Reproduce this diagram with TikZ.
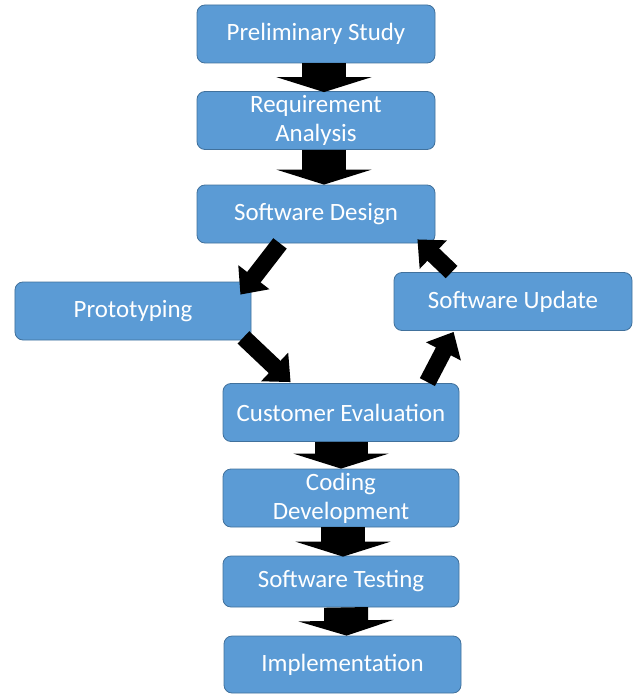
\documentclass[tikz,border=0pt]{standalone}
\usepackage{fontspec}
\setmainfont{Carlito}
\usepackage{xcolor}
\usetikzlibrary{arrows.meta,calc}
\definecolor{boxblue}{HTML}{5B9BD5}
\definecolor{boxline}{HTML}{41719C}

\begin{document}
\begin{tikzpicture}[x=1bp,y=-1bp]
		\tikzstyle{stage}=[draw=boxline,line width=0.8bp,fill=boxblue,rounded corners=8bp, minimum width=238bp, minimum height=58bp, inner sep=0pt, align=center, text=white, font=\fontsize{25}{29}\selectfont]
		\tikzstyle{down_arrow}=[line width=44bp, -{Triangle[length=15bp,width=95bp]}]
		\tikzstyle{side_arrow}=[line width=17bp, -{Triangle[length=22bp,width=38bp]}]

		\useasboundingbox (0,0) rectangle (634,694);

		\node [stage] (PS) at (316,34) {Preliminary Study};
		\node [stage] (RA) at (316,120.5) {Requirement\\Analysis};
		\node [stage] (SD) at (316,214) {Software Design};
		\node [stage, minimum width=236bp] (PT) at (133,311) {Prototyping};
		\node [stage] (SU) at (513,301.5) {Software Update};
		\node [stage, minimum width=236bp] (CE) at (341,412.5) {Customer Evaluation};
		\node [stage, minimum width=236bp] (CD) at (341,498) {Coding\\Development};
		\node [stage, minimum width=236bp, minimum height=51bp] (ST) at (341,581.5) {Software Testing};
		\node [stage, minimum width=237bp, minimum height=57bp] (IM) at (342.5,664.5) {Implementation};

		\draw [down_arrow] ($(PS.south)+(8,0)$) -- ($(RA.north)+(8,1)$);
		\draw [down_arrow] ($(RA.south)+(8,0)$) -- ($(SD.north)+(8,0)$);
		\draw [down_arrow, line width=53bp] (CE.south) -- (CD.north);
		\draw [down_arrow] ($(CD.south)+(2,0)$) -- ($(ST.north)+(2,1)$);
		\draw [down_arrow] ($(ST.south)+(5,0)$) -- ($(IM.north)+(4,0)$);

		\draw [side_arrow] ($(SD.south)+(-36,0)$) -- ($(PT.north east)+(-11,13)$);
		\draw [side_arrow] ($(PT.south east)+(-8,-3)$) -- ($(CE.north west)+(68,-1)$);
		\draw [side_arrow] ($(CE.north east)+(-32,-1)$) -- ($(SU.south west)+(60,1)$);
		\draw [side_arrow] ($(SU.north west)+(58,0)$) -- ($(SD.south east)+(-18,-4)$);

	\end{tikzpicture}
\end{document}
